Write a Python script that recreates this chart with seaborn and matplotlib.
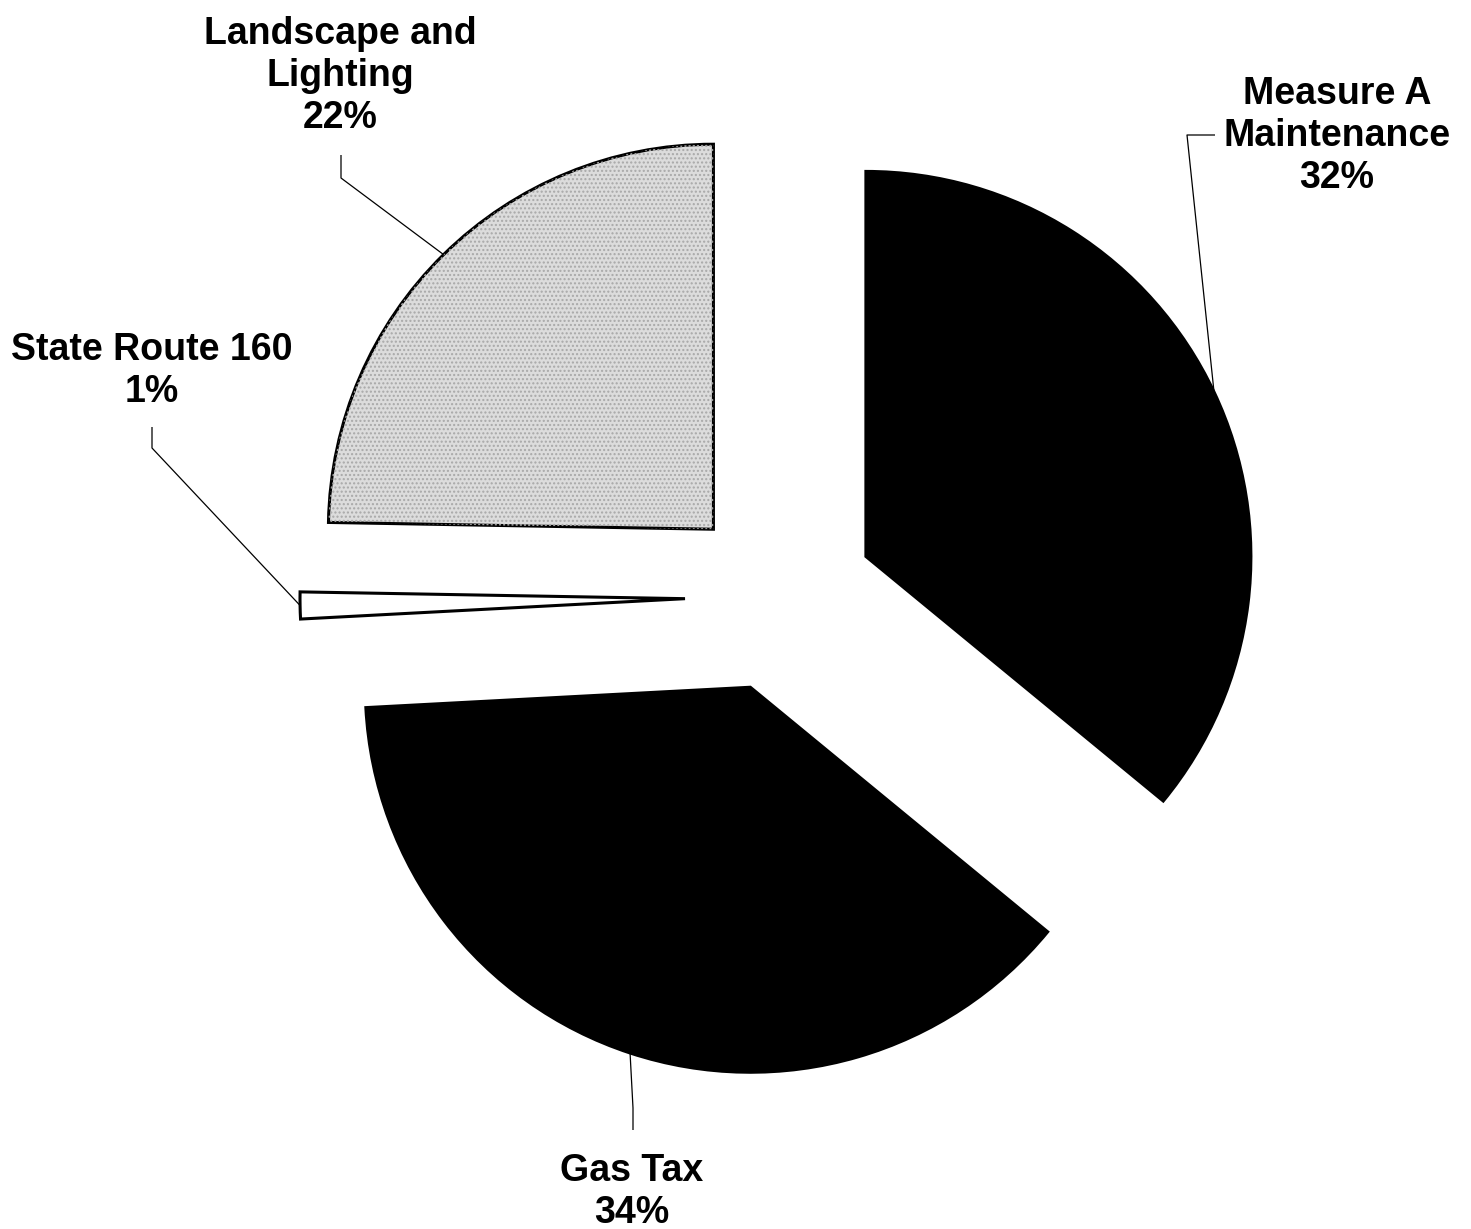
import numpy as np
import matplotlib
matplotlib.use("Agg")
import matplotlib.pyplot as plt
from matplotlib.patches import Wedge
import seaborn as sns

# Funding sources and their shares (percent)
categories = ["Measure A\nMaintenance", "Gas Tax", "State Route 160", "Landscape and\nLighting"]
shares = [32, 34, 1, 22]
fill_colors = ["#000000", "#000000", "#ffffff", "#dcdcdc"]

# Label anchor points and leader-line knees, in canvas pixels (y measured downward)
label_xy = [(1337, 136), (632, 1192), (152, 371), (340, 76)]
knee_xy = [[(1187, 135), (1215, 135)], [(633, 1108), (633, 1130)], [(152, 448), (152, 427)],
           [(341, 178), (341, 155)]]

sns.set_theme(style="white")
plt.rcParams["font.family"] = ["Liberation Sans", "DejaVu Sans"]

W, H = 1471, 1229
fig = plt.figure(figsize=(W / 100, H / 100), dpi=100)
ax = fig.add_axes([0, 0, 1, 1])

center = (780, H - 597)
radius = 385
offset = 95  # distance each slice is pulled out from the centre, in pixels

wedges, _ = ax.pie(
    shares,
    colors=fill_colors,
    startangle=90,
    counterclock=False,
    explode=[offset] * len(shares),
    center=center,
    radius=radius,
    wedgeprops=dict(edgecolor="black", linewidth=2.2, joinstyle="miter"),
    frame=True,
)
ax.set_xlim(0, W)
ax.set_ylim(0, H)
ax.set_aspect("equal")
ax.axis("off")

# Stippled texture on the light slice
lw = wedges[3]
stipple = Wedge(lw.center, lw.r, lw.theta1, lw.theta2, facecolor="none",
                edgecolor="#a8a8a8", linewidth=0, hatch="....")
ax.add_patch(stipple)

for w, cat, share, (lx, ly), knees in zip(wedges, categories, shares, label_xy, knee_xy):
    mid = np.deg2rad((w.theta1 + w.theta2) / 2)
    sx = w.center[0] + w.r * np.cos(mid)
    sy = w.center[1] + w.r * np.sin(mid)
    xs = [sx] + [k[0] for k in knees]
    ys = [sy] + [H - k[1] for k in knees]
    ax.plot(xs, ys, color="black", linewidth=0.9, solid_capstyle="butt")
    ax.text(lx, H - ly, f"{cat}\n{share}%", ha="center", va="center",
            multialignment="center", fontsize=27, fontweight="bold",
            color="black", linespacing=1.2)

fig.savefig("out.png", dpi=100, facecolor="white")
